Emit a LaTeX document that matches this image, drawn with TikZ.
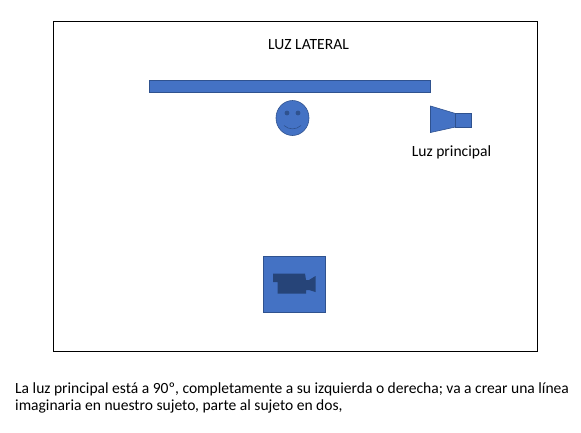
\documentclass[tikz,border=0pt]{standalone}
\usepackage{fontspec}
\setmainfont{Carlito}
\definecolor{fillblue}{HTML}{4472C4}
\definecolor{lineblue}{HTML}{2F528F}
\definecolor{camblue}{HTML}{264478}
\tikzset{
  shapeblue/.style={fill=fillblue,draw=lineblue,line width=0.6pt},
  facemark/.style={draw=lineblue,line width=0.6pt},
  label/.style={inner sep=0pt,text=black,font=\fontsize{15.6pt}{18pt}\selectfont},
  para/.style={inner sep=0pt,text=black,align=left,anchor=north west,font=\fontsize{15.55pt}{17pt}\selectfont}
}
\begin{document}
\begin{tikzpicture}[x=1pt,y=-1pt]
\useasboundingbox (0,0) rectangle (581,432);
\draw[black,line width=0.6pt] (53.5,21.5) rectangle (537.5,351.5);
\node[label] (titulo) at (308.5,44.5) {LUZ LATERAL};
\draw[shapeblue] (149.5,80.5) rectangle (430.5,92.5);
% smiley
\draw[shapeblue] (292.5,118) ellipse [x radius=16.5,y radius=17.5];
\fill[lineblue] (287,113) circle (2.4);
\fill[lineblue] (298,113) circle (2.4);
\draw[facemark] (284,125.5) .. controls (289,130) and (296,130) .. (301,125.5);
% light
\draw[shapeblue] (430.5,106) -- (455.5,113.5) -- (455.5,127) -- (430.5,132.5) -- cycle;
\draw[shapeblue] (455.5,113.5) rectangle (471.5,127);
\node[label] (luz) at (451.5,152.5) {Luz principal};
% camera
\draw[shapeblue] (263.5,256.5) rectangle (325.5,312.5);
\fill[camblue] (273,273.5) -- (305,273.5) -- (306,280) -- (309,280) -- (315.5,276) -- (315.5,292) -- (309,290) -- (306,290) -- (306,293.5) -- (277.5,293.5) -- (277.5,282) -- (273,282) -- cycle;
\node[para] (texto) at (15,382.5) {La luz principal está a 90º, completamente a su izquierda o derecha; va a crear una línea\\imaginaria en nuestro sujeto, parte al sujeto en dos,};
\end{tikzpicture}
\end{document}
